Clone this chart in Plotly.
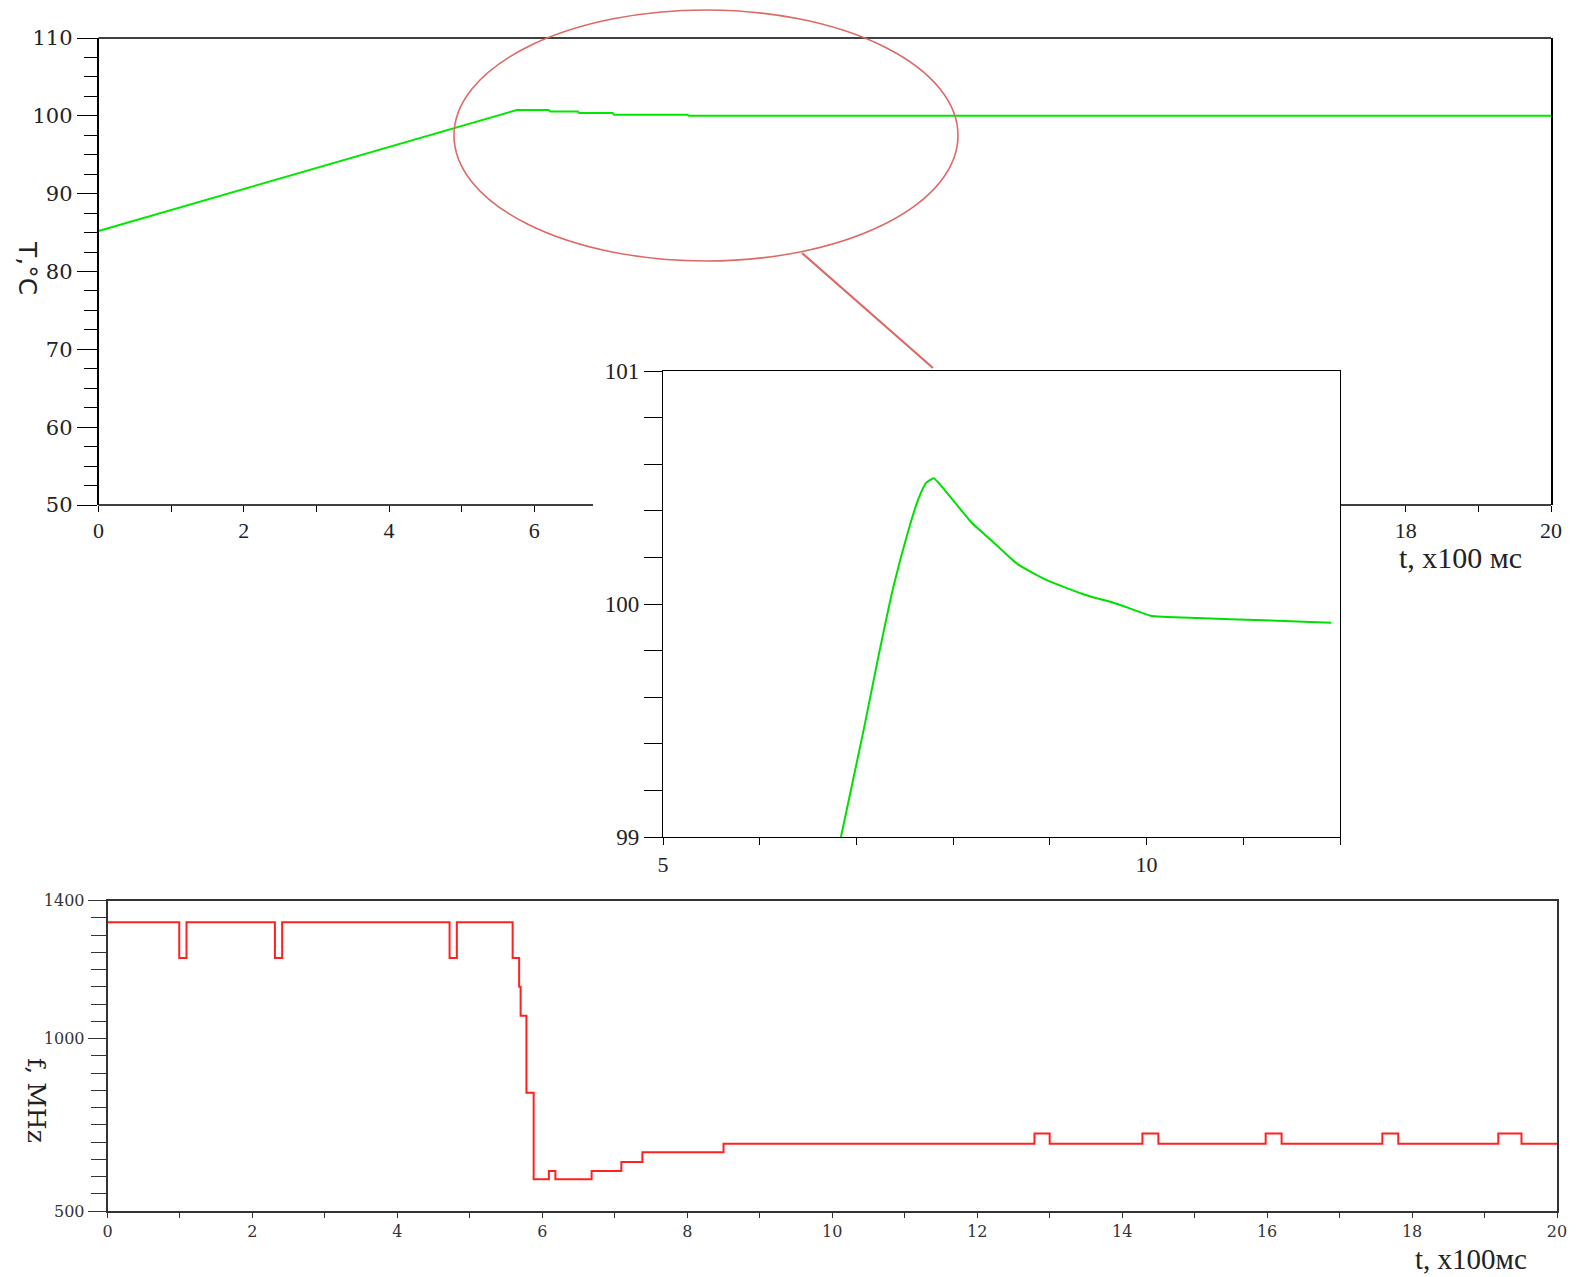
import plotly.graph_objects as go

W, H = 1576, 1277
OFF = 8  # page body margin in front of the plot div

# ---- data ----
temp_t = [0, 1, 2, 3, 4, 5, 5.5, 5.76, 6.20, 6.22, 6.60, 6.62, 7.08, 7.10, 8.11, 8.13, 20]
temp_T = [85.2, 87.9, 90.6, 93.3, 96.0, 98.7, 100.05, 100.75, 100.75, 100.55, 100.55, 100.35,
          100.35, 100.15, 100.15, 100.0, 100.0]

zoom_t = [6.84, 7.07, 7.23, 7.38, 7.54, 7.64, 7.72, 7.80, 7.99, 8.19, 8.43, 8.67, 8.98, 9.36,
          9.70, 10.04, 10.52, 11.21, 11.91]
zoom_T = [99.0, 99.45, 99.78, 100.07, 100.32, 100.45, 100.52, 100.54, 100.45, 100.35, 100.26,
          100.17, 100.10, 100.04, 100.00, 99.95, 99.94, 99.93, 99.92]

freq_t = [0, 0.99, 1.09, 2.31, 2.41, 4.72, 4.82, 5.59, 5.68, 5.70, 5.78, 5.88, 6.09, 6.18, 6.68,
          7.09, 7.38, 8.50, 12.79, 13.00, 14.28, 14.50, 15.98, 16.20, 17.59, 17.81, 19.19, 19.51, 20]
freq_f = [1337, 1233, 1337, 1233, 1337, 1233, 1337, 1233, 1150, 1066, 843, 592, 616, 592, 616,
          642, 670, 695, 725, 695, 725, 695, 725, 695, 725, 695, 725, 695, 695]

top_xticks = [0, 1, 2, 3, 4, 5, 6, 18, 19, 20]
top_xtext = ["0", "", "2", "", "4", "", "6", "18", "", "20"]
top_yticks = [50, 60, 70, 80, 90, 100, 110]
zoom_xticks = [5, 10]
zoom_yticks = [99, 100, 101]
bot_xticks = list(range(0, 21, 2))
bot_yticks = [500, 1000, 1400]

# ---- layout geometry (page pixels) ----
def px(x):
    return (x - OFF) / W

def py(y):
    return 1 - (y - OFF) / H

top_x = (98.5, 1551)
top_y = (38, 505)
ins_x = (663, 1340)
ins_y = (371, 837)
bot_x = (107.5, 1557)
bot_y = (900.5, 1211)

fig = go.Figure()
fig.add_trace(go.Scatter(x=temp_t, y=temp_T, mode="lines", line=dict(color="#00e800", width=2),
                         xaxis="x", yaxis="y", showlegend=False))
fig.add_trace(go.Scatter(x=zoom_t, y=zoom_T, mode="lines",
                         line=dict(color="#00e000", width=2, shape="spline", smoothing=0.4),
                         xaxis="x2", yaxis="y2", showlegend=False))
fig.add_trace(go.Scatter(x=freq_t, y=freq_f, mode="lines", line=dict(color="#ff2020", width=2, shape="hv"),
                         xaxis="x3", yaxis="y3", showlegend=False))

serif = "Liberation Serif"
dserif = "DejaVu Serif"

fig.update_layout(
    width=W, height=H, margin=dict(l=0, r=0, t=0, b=0, autoexpand=False),
    paper_bgcolor="white", plot_bgcolor="white",
    xaxis=dict(domain=[px(top_x[0]), px(top_x[1])], anchor="y", range=[0, 20], automargin=False,
               showline=False, showgrid=False, zeroline=False,
               tickmode="array", tickvals=top_xticks, ticktext=top_xtext,
               ticks="outside", ticklen=6, tickcolor="black", tickwidth=1.2,
               tickfont=dict(family=serif, size=22, color="#222")),
    yaxis=dict(domain=[py(top_y[1]), py(top_y[0])], anchor="x", range=[50, 110], automargin=False,
               showline=True, mirror=True, linecolor="black", linewidth=1.5,
               showgrid=False, zeroline=False,
               tickmode="array", tickvals=top_yticks,
               ticks="outside", ticklen=20, tickcolor="black", tickwidth=1.2,
               minor=dict(dtick=2.5, ticks="outside", ticklen=13, tickcolor="black", tickwidth=1.2, showgrid=False),
               tickfont=dict(family=dserif, size=21, color="#222")),
    xaxis2=dict(domain=[px(ins_x[0]), px(ins_x[1])], anchor="y2", range=[5, 12], automargin=False,
                showline=True, mirror=True, linecolor="black", linewidth=1.3,
                showgrid=False, zeroline=False,
                tickmode="array", tickvals=zoom_xticks,
                ticks="outside", ticklen=7, tickcolor="black", tickwidth=1.2,
                minor=dict(dtick=1, ticks="outside", ticklen=7, tickcolor="black", tickwidth=1.2, showgrid=False),
                tickfont=dict(family=serif, size=22, color="#222")),
    yaxis2=dict(domain=[py(ins_y[1]), py(ins_y[0])], anchor="x2", range=[99, 101], automargin=False,
                showline=True, mirror=True, linecolor="black", linewidth=1.3,
                showgrid=False, zeroline=False,
                tickmode="array", tickvals=zoom_yticks,
                ticks="outside", ticklen=18, tickcolor="black", tickwidth=1.2,
                minor=dict(dtick=0.2, ticks="outside", ticklen=18, tickcolor="black", tickwidth=1.2, showgrid=False),
                tickfont=dict(family=serif, size=23, color="#222")),
    xaxis3=dict(domain=[px(bot_x[0]), px(bot_x[1])], anchor="y3", range=[0, 20], automargin=False,
                showline=True, mirror=True, linecolor="#333", linewidth=1.5,
                showgrid=False, zeroline=False,
                tickmode="array", tickvals=bot_xticks,
                ticks="outside", ticklen=5, tickcolor="#333", tickwidth=1.2,
                minor=dict(dtick=1, ticks="outside", ticklen=5, tickcolor="#333", tickwidth=1.2, showgrid=False),
                tickfont=dict(family=dserif, size=16, color="#333")),
    yaxis3=dict(domain=[py(bot_y[1]), py(bot_y[0])], anchor="x3", range=[500, 1400], automargin=False,
                showline=True, mirror=True, linecolor="#333", linewidth=1.5,
                showgrid=False, zeroline=False,
                tickmode="array", tickvals=bot_yticks,
                ticks="outside", ticklen=18, tickcolor="#333", tickwidth=1.2,
                minor=dict(dtick=50, ticks="outside", ticklen=15, tickcolor="#333", tickwidth=1.2, showgrid=False),
                tickfont=dict(family=dserif, size=16, color="#333")),
)

# main-plot frame pieces that remain visible around the inset
frame = dict(color="black", width=1.5)
fig.add_shape(type="line", xref="paper", yref="paper",
              x0=px(top_x[0]), x1=px(top_x[1]), y0=py(top_y[0]), y1=py(top_y[0]), line=frame)
fig.add_shape(type="line", xref="paper", yref="paper",
              x0=px(top_x[0]), x1=px(593), y0=py(top_y[1]), y1=py(top_y[1]), line=frame)
fig.add_shape(type="line", xref="paper", yref="paper",
              x0=px(ins_x[1]), x1=px(top_x[1]), y0=py(top_y[1]), y1=py(top_y[1]), line=frame)

# zoom highlight ellipse and connector
ell = dict(color="#dc6a64", width=1.6)
fig.add_shape(type="circle", xref="paper", yref="paper",
              x0=px(454), x1=px(958), y0=py(261), y1=py(10), line=ell)
fig.add_shape(type="line", xref="paper", yref="paper",
              x0=px(802), y0=py(253), x1=px(933), y1=py(368), line=dict(color="#dc6a64", width=2.2))

# axis titles
ann = dict(xref="paper", yref="paper", showarrow=False, xanchor="center", yanchor="middle", borderpad=0)
fig.add_annotation(text="t, x100 мс", x=px(1460), y=py(557),
                   font=dict(family=serif, size=30, color="#222"), **ann)
fig.add_annotation(text="t, x100мс", x=px(1471), y=py(1259),
                   font=dict(family=serif, size=29, color="#222"), **ann)
fig.add_annotation(text="T,°C", x=px(28), y=py(268), textangle=90,
                   font=dict(family="DejaVu Sans", size=25, color="#222"), **ann)
fig.add_annotation(text="f, MHz", x=px(37), y=py(1100), textangle=90,
                   font=dict(family=dserif, size=25, color="#222"), **ann)

fig.write_html("out.html")
